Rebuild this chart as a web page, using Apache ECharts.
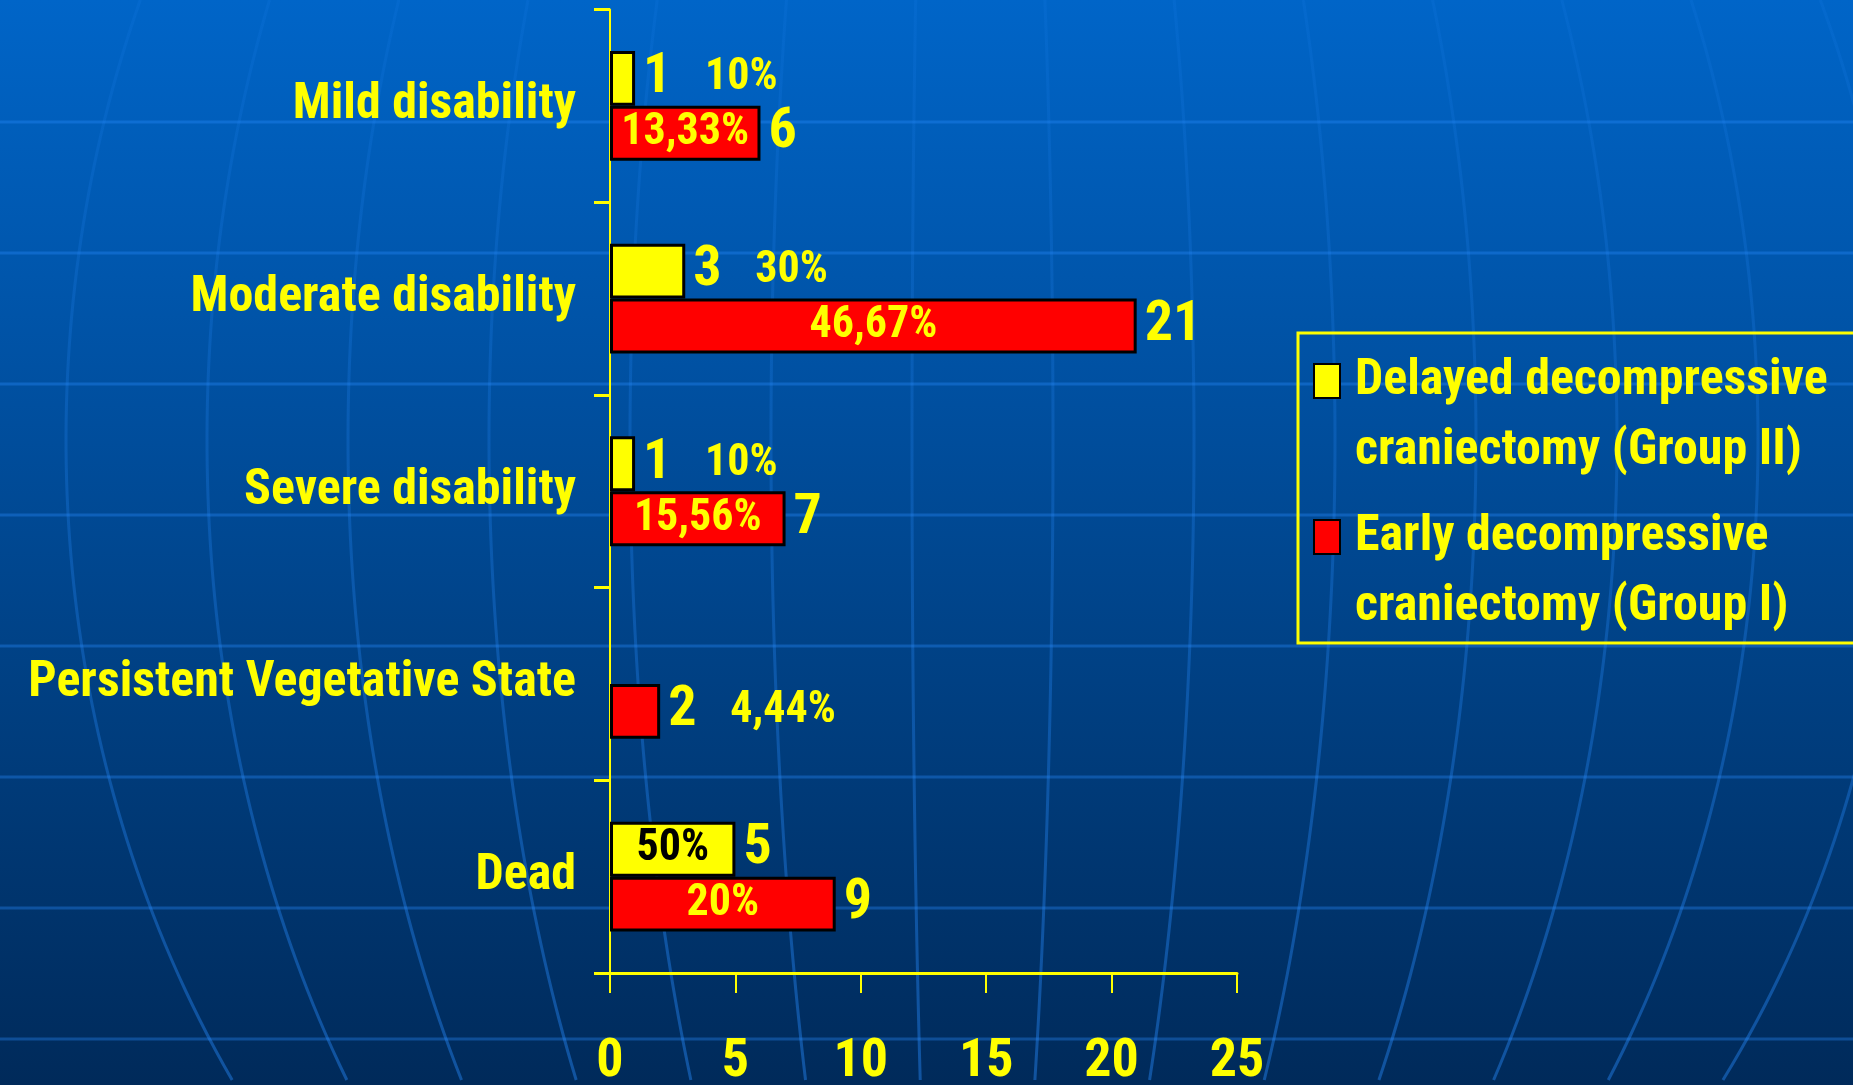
<!DOCTYPE html>
<html>
<head>
<meta charset="utf-8">
<title>Outcome by decompressive craniectomy timing</title>
<script src="https://cdn.jsdelivr.net/npm/echarts@6/dist/echarts.min.js"></script>
<style>
  html, body { margin: 0; padding: 0; background: #003f80; }
  #chart { width: 1853px; height: 1085px; }
</style>
</head>
<body>
<div id="chart"></div>
<script>
// Outcome categories, top to bottom
const categories = ['Mild disability', 'Moderate disability', 'Severe disability', 'Persistent Vegetative State', 'Dead'];

// Series names (legend entries)
const seriesNames = ['Delayed decompressive\ncraniectomy (Group II)', 'Early decompressive\ncraniectomy (Group I)'];

// Patient counts per category
const delayedCounts = [1, 3, 1, 0, 5];
const earlyCounts = [6, 21, 7, 2, 9];

// Percentages written next to / inside the bars
const delayedPct = ['10%', '30%', '10%', '', '50%'];
const earlyPct = ['13,33%', '46,67%', '15,56%', '4,44%', '20%'];

// Value axis range
const axisMin = 0, axisMax = 25, axisStep = 5;

const FONT = "'Roboto Condensed', 'Open Sans Condensed', 'Liberation Sans', sans-serif";
const YELLOW = '#FFFF00';
const RED = '#FF0000';
const BAR_GAP = '0%';
const CAT_GAP = '43%';

const chart = echarts.init(document.getElementById('chart'), null, { renderer: 'canvas' });

// Count label to the right of each bar
function countLabel() {
  return {
    show: true, position: 'right', distance: 8,
    color: YELLOW, fontSize: 56, fontFamily: FONT, fontWeight: 'bold',
    formatter: p => (p.value ? String(p.value) : '')
  };
}

// Percentage label: inside wide bars, further right on short ones
function pctData(counts, pcts, insideColor) {
  return counts.map((v, i) => {
    const inside = v >= 5;
    return {
      value: v,
      label: {
        show: pcts[i] !== '',
        position: inside ? 'inside' : 'right',
        distance: inside ? 0 : 70,
        color: inside ? insideColor : YELLOW,
        fontSize: 44, fontFamily: FONT, fontWeight: 'bold',
        formatter: () => pcts[i]
      }
    };
  });
}

function barData(counts) {
  return counts.map(v => (v === 0 ? { value: 0, itemStyle: { borderWidth: 0 } } : v));
}

// Background decoration: faint globe grid
const decor = [];
for (let k = 0; k < 8; k++) {
  const y = 122 + k * 131;
  decor.push({
    type: 'line', z: 0, silent: true,
    shape: { x1: 0, y1: y, x2: 1853, y2: y },
    style: { stroke: 'rgba(40,140,255,0.35)', lineWidth: 3 }
  });
}
const cx = 956, cy = 440, R = 1100;
for (let k = -8; k <= 5; k++) {
  const d = 238 + 141 * k;
  const pts = [];
  for (let y = 0; y <= 1085; y += 15) {
    const t = (y - cy) / R;
    pts.push([cx + d * Math.sqrt(1 - t * t), y]);
  }
  decor.push({
    type: 'polyline', z: 0, silent: true,
    shape: { points: pts },
    style: {
      fill: null, lineWidth: 3,
      stroke: {
        type: 'linear', x: 0, y: 0, x2: 0, y2: 1,
        colorStops: [
          { offset: 0, color: 'rgba(40,140,255,0.10)' },
          { offset: 1, color: 'rgba(40,140,255,0.42)' }
        ]
      }
    }
  });
}
// Legend frame
decor.push({
  type: 'rect', z: 1, silent: true,
  shape: { x: 1298, y: 333, width: 620, height: 310 },
  style: { fill: null, stroke: YELLOW, lineWidth: 3 }
});

const option = {
  animation: false,
  backgroundColor: {
    type: 'linear', x: 0, y: 0, x2: 0, y2: 1,
    colorStops: [
      { offset: 0, color: '#0065C8' },
      { offset: 1, color: '#002A5A' }
    ]
  },
  textStyle: { fontFamily: FONT, fontWeight: 'bold' },
  graphic: decor,
  grid: {
    left: 610, top: 9.5, right: 616, bottom: 112,
    containLabel: false, outerBoundsMode: 'none'
  },
  legend: {
    data: seriesNames,
    orient: 'vertical',
    left: 1313, top: 276,
    padding: 0,
    itemGap: -54,
    itemWidth: 26, itemHeight: 34,
    icon: 'rect',
    selectedMode: false,
    // a blank first line keeps the swatch level with the first text line
    formatter: name => '\n' + name,
    textStyle: {
      color: YELLOW, fontSize: 50, fontFamily: FONT, fontWeight: 'bold',
      lineHeight: 70, padding: [0, 0, 0, 10]
    }
  },
  xAxis: {
    type: 'value', min: axisMin, max: axisMax, interval: axisStep,
    axisLine: { show: true, lineStyle: { color: YELLOW, width: 3 } },
    axisTick: { show: true, length: 20, lineStyle: { color: YELLOW, width: 2 } },
    axisLabel: { color: YELLOW, fontSize: 54, fontFamily: FONT, fontWeight: 'bold', margin: 62 },
    splitLine: { show: false }
  },
  yAxis: [
    {
      type: 'category', data: categories, inverse: true,
      axisLine: { show: true, lineStyle: { color: YELLOW, width: 2 } },
      axisTick: { show: true, length: 16, lineStyle: { color: YELLOW, width: 3 } },
      axisLabel: { color: YELLOW, fontSize: 50, fontFamily: FONT, fontWeight: 'bold', margin: 34 },
      splitLine: { show: false }
    },
    { type: 'category', data: categories, inverse: true, show: false }
  ],
  series: [
    {
      name: seriesNames[0], type: 'bar', yAxisIndex: 0,
      data: barData(delayedCounts),
      itemStyle: { color: YELLOW, borderColor: '#000', borderWidth: 3 },
      barGap: BAR_GAP, barCategoryGap: CAT_GAP,
      label: countLabel(), z: 3
    },
    {
      name: seriesNames[1], type: 'bar', yAxisIndex: 0,
      data: barData(earlyCounts),
      itemStyle: { color: RED, borderColor: '#000', borderWidth: 3 },
      barGap: BAR_GAP, barCategoryGap: CAT_GAP,
      label: countLabel(), z: 3
    },
    {
      name: 'delayedPct', type: 'bar', yAxisIndex: 1, silent: true,
      data: pctData(delayedCounts, delayedPct, '#000000'),
      itemStyle: { color: 'rgba(0,0,0,0)', borderWidth: 0 },
      barGap: BAR_GAP, barCategoryGap: CAT_GAP, z: 4
    },
    {
      name: 'earlyPct', type: 'bar', yAxisIndex: 1, silent: true,
      data: pctData(earlyCounts, earlyPct, YELLOW),
      itemStyle: { color: 'rgba(0,0,0,0)', borderWidth: 0 },
      barGap: BAR_GAP, barCategoryGap: CAT_GAP, z: 4
    }
  ]
};

chart.setOption(option);
</script>
</body>
</html>
